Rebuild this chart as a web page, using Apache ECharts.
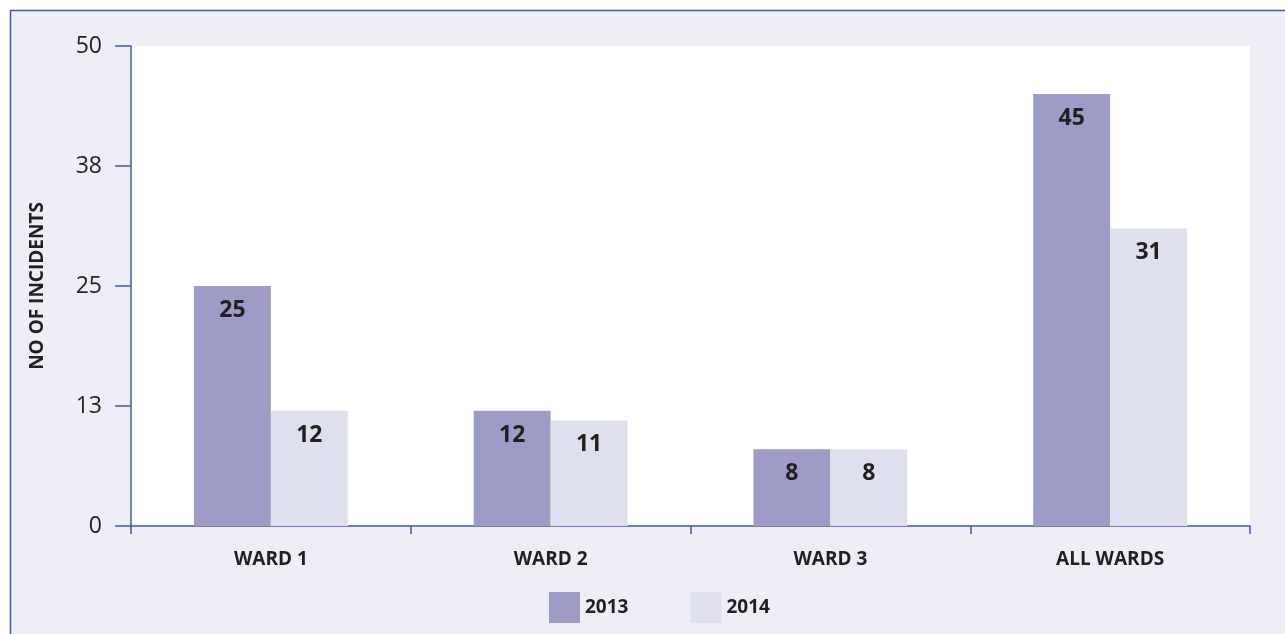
<!DOCTYPE html>
<html>
<head>
<meta charset="utf-8">
<script src="https://cdn.jsdelivr.net/npm/echarts@6/dist/echarts.min.js"></script>
<style>
  html, body { margin: 0; padding: 0; background: #fff; }
  #chart { width: 1285px; height: 634px; }
</style>
</head>
<body>
<div id="chart"></div>
<script>
// data
var categories = ['WARD 1', 'WARD 2', 'WARD 3', 'ALL WARDS'];
var seriesNames = ['2013', '2014'];
var values2013 = [25, 12, 8, 45];
var values2014 = [12, 11, 8, 31];

var axisBlue = '#4458a8';
var textDark = '#231f20';
var fontName = '"Open Sans", "Noto Sans", sans-serif';

var chart = echarts.init(document.getElementById('chart'));

var barLabel = {
    show: true,
    position: 'insideTop',
    distance: 13,
    color: textDark,
    fontFamily: fontName,
    fontWeight: 'bold',
    fontSize: 23
};

var option = {
    backgroundColor: '#fff',
    animation: false,
    // outer panel with border
    graphic: [{
        type: 'rect',
        z: -10,
        shape: { x: 10.5, y: 10.5, width: 1300, height: 650 },
        style: { fill: '#eeeef6', stroke: axisBlue, lineWidth: 1.5 }
    }],
    grid: {
        left: 131,
        right: 35,
        top: 46,
        bottom: 108,
        show: true,
        backgroundColor: '#fff',
        borderWidth: 0
    },
    legend: {
        bottom: 6,
        left: 544,
        itemWidth: 31,
        itemHeight: 31,
        itemGap: 62,
        icon: 'rect',
        data: seriesNames,
        textStyle: { color: textDark, fontFamily: fontName, fontWeight: 'bold', fontSize: 19 }
    },
    xAxis: {
        type: 'category',
        data: categories,
        axisLine: { lineStyle: { color: axisBlue, width: 1.5 } },
        axisTick: { show: true, length: 8, lineStyle: { color: axisBlue, width: 1.5 } },
        axisLabel: { color: textDark, fontFamily: fontName, fontWeight: 'bold', fontSize: 19, margin: 24 }
    },
    yAxis: {
        type: 'value',
        min: 0,
        max: 50,
        interval: 12.5,
        name: 'NO OF INCIDENTS',
        nameLocation: 'middle',
        nameGap: 84,
        nameTextStyle: { color: textDark, fontFamily: fontName, fontWeight: 'bold', fontSize: 19 },
        axisLine: { show: true, lineStyle: { color: axisBlue, width: 1.5 } },
        axisTick: { show: true, length: 16, lineStyle: { color: axisBlue, width: 1.5 } },
        splitLine: { show: false },
        axisLabel: {
            color: textDark,
            fontFamily: fontName,
            fontSize: 23,
            margin: 29,
            formatter: function (v) { return Math.round(v); }
        }
    },
    series: [
        {
            name: seriesNames[0],
            type: 'bar',
            barWidth: '27.5%',
            barGap: '0%',
            itemStyle: { color: '#9c9cc6' },
            label: barLabel,
            data: values2013
        },
        {
            name: seriesNames[1],
            type: 'bar',
            barWidth: '27.5%',
            barGap: '0%',
            itemStyle: { color: '#dfe0ee' },
            label: barLabel,
            data: values2014
        }
    ]
};

chart.setOption(option);
</script>
</body>
</html>
